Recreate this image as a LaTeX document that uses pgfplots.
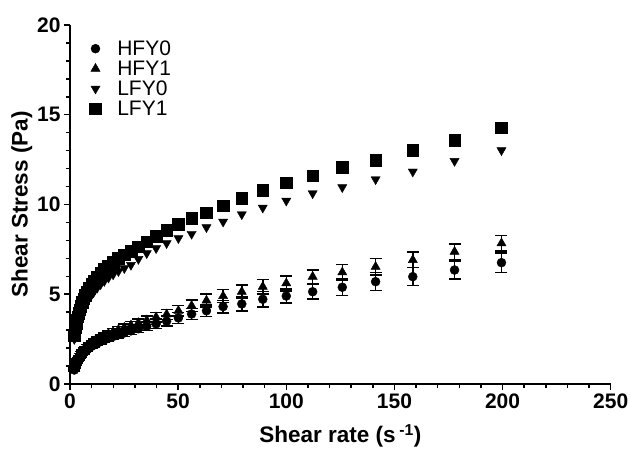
\documentclass[border=0pt]{standalone}
\usepackage{fontspec}
\setmainfont{Liberation Sans}
\usepackage{pgfplots}
\pgfplotsset{compat=1.18}
\usepackage{pgfplotstable}

\pgfplotstableread{
x y e
1.995 0.78 0.05
2.239 0.92 0.05
2.512 1.03 0.06
2.818 1.13 0.06
3.162 1.23 0.07
3.548 1.33 0.07
3.981 1.42 0.08
4.467 1.51 0.08
5.012 1.60 0.09
5.623 1.68 0.09
6.310 1.77 0.10
7.079 1.85 0.10
7.943 1.93 0.11
8.913 2.02 0.11
10.00 2.10 0.12
11.22 2.19 0.13
12.59 2.28 0.14
14.13 2.37 0.15
15.85 2.46 0.16
17.78 2.56 0.17
19.95 2.65 0.18
22.39 2.75 0.19
25.12 2.85 0.20
28.18 2.96 0.21
31.62 3.08 0.22
35.48 3.21 0.24
39.81 3.35 0.26
44.67 3.50 0.28
50.12 3.68 0.30
56.23 3.90 0.31
63.10 4.08 0.32
70.79 4.31 0.35
79.43 4.46 0.38
89.13 4.72 0.43
100.0 4.90 0.40
112.2 5.14 0.40
125.9 5.39 0.47
141.3 5.70 0.50
158.5 5.98 0.50
177.8 6.35 0.50
199.5 6.76 0.54
}\hfyzero

\pgfplotstableread{
x y e
1.995 0.85 0.05
2.239 0.98 0.05
2.512 1.10 0.06
2.818 1.21 0.06
3.162 1.32 0.07
3.548 1.42 0.07
3.981 1.52 0.08
4.467 1.62 0.08
5.012 1.72 0.09
5.623 1.81 0.09
6.310 1.91 0.10
7.079 2.00 0.10
7.943 2.09 0.11
8.913 2.18 0.11
10.00 2.28 0.12
11.22 2.38 0.13
12.59 2.48 0.13
14.13 2.58 0.14
15.85 2.69 0.15
17.78 2.80 0.16
19.95 2.91 0.17
22.39 3.02 0.18
25.12 3.14 0.19
28.18 3.27 0.20
31.62 3.40 0.22
35.48 3.55 0.24
39.81 3.72 0.26
44.67 3.88 0.28
50.12 4.08 0.30
56.23 4.36 0.32
63.10 4.65 0.35
70.79 4.90 0.37
79.43 5.14 0.38
89.13 5.42 0.40
100.0 5.61 0.42
112.2 5.98 0.37
125.9 6.22 0.45
141.3 6.53 0.47
158.5 6.91 0.43
177.8 7.37 0.43
199.5 7.84 0.44
}\hfyone

\pgfplotstableread{
x y
1.995 2.50
2.239 2.68
2.512 2.85
2.818 3.03
3.162 3.20
3.548 3.38
3.981 3.55
4.467 3.72
5.012 3.90
5.623 4.07
6.310 4.25
7.079 4.43
7.943 4.61
8.913 4.80
10.00 4.98
11.22 5.17
12.59 5.36
14.13 5.55
15.85 5.73
17.78 5.92
19.95 6.10
22.39 6.28
25.12 6.45
28.18 6.63
31.62 6.96
35.48 7.28
39.81 7.56
44.67 7.84
50.12 8.12
56.23 8.36
63.10 8.73
70.79 9.04
79.43 9.45
89.13 9.82
100.0 10.21
112.2 10.62
125.9 10.96
141.3 11.40
158.5 11.83
177.8 12.42
199.5 13.02
}\lfyzero

\pgfplotstableread{
x y
1.995 2.70
2.239 2.95
2.512 3.15
2.818 3.35
3.162 3.55
3.548 3.75
3.981 3.95
4.467 4.15
5.012 4.35
5.623 4.55
6.310 4.75
7.079 4.95
7.943 5.15
8.913 5.35
10.00 5.55
11.22 5.76
12.59 5.97
14.13 6.18
15.85 6.39
17.78 6.60
19.95 6.80
22.39 7.00
25.12 7.20
28.18 7.40
31.62 7.65
35.48 7.93
39.81 8.25
44.67 8.58
50.12 8.90
56.23 9.23
63.10 9.54
70.79 9.93
79.43 10.35
89.13 10.81
100.0 11.21
112.2 11.60
125.9 12.07
141.3 12.48
158.5 13.04
177.8 13.59
199.5 14.28
}\lfyone

\begin{document}
\begin{tikzpicture}
\path[use as bounding box] (-70pt,-68pt) rectangle (560pt,384pt);
\begin{axis}[
  at={(0pt,0pt)}, anchor=south west,
  scale only axis, width=540.7pt, height=359pt,
  xmin=0, xmax=250, ymin=0, ymax=20,
  clip=false,
  axis lines*=left,
  axis line style={line width=2pt, black},
  xtick={0,50,...,250}, ytick={0,5,...,20},
  minor x tick num=4, minor y tick num=4,
  tick align=outside,
  major tick length=6pt, minor tick length=4pt,
  every tick/.style={black, line width=1.5pt},
  tick label style={font=\bfseries\fontsize{21}{24}\selectfont},
  /pgf/number format/assume math mode=true,
  xlabel={Shear rate (s\,\textsuperscript{-1})},
  ylabel={Shear Stress (Pa)},
  xlabel style={font=\bfseries\fontsize{22.5}{26}\selectfont, at={(axis description cs:0.5,-0.1643)}, anchor=base},
  ylabel style={font=\bfseries\fontsize{22.5}{26}\selectfont, at={(axis description cs:-0.0893,0.5)}, anchor=center},
  legend style={at={(axis description cs:0.0305,0.968)}, anchor=north west, draw=none, fill=none,
    font=\fontsize{21}{24}\selectfont, row sep=0pt, column sep=14pt,
    nodes={inner sep=2pt, text height=15pt, text depth=1pt}},
  legend cell align=left,
  error bars/error mark=|,
]
\addplot[only marks, mark=*, mark size=4.5pt, black,
  error bars/.cd, y dir=both, y explicit,
  error bar style={line width=1.5pt, black},
  error mark options={line width=1.5pt, mark size=6pt, black}]
  table[x=x, y=y, y error=e] {\hfyzero};
\addlegendentry{HFY0}
\addplot[only marks, mark=triangle*, mark size=5.3pt, black,
  error bars/.cd, y dir=both, y explicit,
  error bar style={line width=1.5pt, black},
  error mark options={line width=1.5pt, mark size=6pt, black}]
  table[x=x, y=y, y error=e] {\hfyone};
\addlegendentry{HFY1}
\addplot[only marks, mark=triangle*, mark size=5.3pt, mark options={rotate=180}, black]
  table[x=x, y=y] {\lfyzero};
\addlegendentry{LFY0}
\addplot[only marks, mark=square*, mark size=5.8pt, black]
  table[x=x, y=y] {\lfyone};
\addlegendentry{LFY1}
\end{axis}
\end{tikzpicture}
\end{document}
